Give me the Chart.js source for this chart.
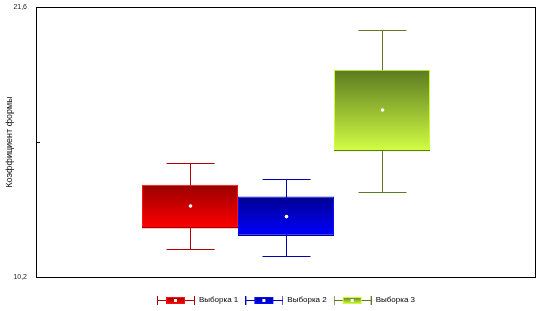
<!DOCTYPE html>
<html>
<head>
<meta charset="utf-8">
<script src="https://cdn.jsdelivr.net/npm/chart.js@4/dist/chart.umd.min.js"></script>
<style>
  body { margin: 0; background: #fff; }
  #wrap { width: 538px; height: 311px; }
</style>
</head>
<body>
<div id="wrap"><canvas id="boxchart" width="538" height="311"></canvas></div>
<script>
"use strict";

/* data */
var samples = ['Выборка 1', 'Выборка 2', 'Выборка 3'];
var whiskerLow = [11.4, 11.1, 13.8];
var q1 = [12.25, 11.95, 15.5];
var means = [13.2, 12.75, 17.25];
var q3 = [14.1, 13.6, 18.95];
var whiskerHigh = [15.0, 14.35, 20.65];
var yTicks = [10.2, 15.9, 21.6];
var yTickLabels = ['10,2', '', '21,6'];

/* colours: top of box, bottom of box, light edge, dark edge, whisker */
var boxTop = ['#990000', '#000090', '#5a7a20'];
var boxBottom = ['#ff0000', '#0000ff', '#d4ff44'];
var edgeLight = ['#ff1010', '#0010ff', '#ccff33'];
var edgeDark = ['#a00000', '#000080', '#5a7a1f'];
var whiskerColor = ['#b00000', '#0000b0', '#5f7a1f'];

var fontFamily = '"Liberation Sans", Arial, sans-serif';

/* legend icons |--[box]--| */
function makeIcon(i) {
    var c = document.createElement('canvas');
    c.width = 38;
    c.height = 10;
    var g = c.getContext('2d');
    g.strokeStyle = whiskerColor[i];
    g.lineWidth = 1;
    g.beginPath();
    g.moveTo(0, 5.5); g.lineTo(38, 5.5);
    g.moveTo(0.5, 1); g.lineTo(0.5, 10);
    g.moveTo(37.5, 1); g.lineTo(37.5, 10);
    g.stroke();
    var grad = g.createLinearGradient(0, 2, 0, 9);
    grad.addColorStop(0, boxTop[i]);
    grad.addColorStop(1, boxBottom[i]);
    g.fillStyle = grad;
    g.fillRect(9, 2, 19, 7);
    g.strokeStyle = edgeLight[i];
    g.strokeRect(9.5, 2.5, 18, 6);
    g.fillStyle = '#fff';
    g.fillRect(17, 4, 3, 3);
    return c;
}
var legendIcons = samples.map(function (s, i) { return makeIcon(i); });

function boxGradient(context) {
    var i = context.datasetIndex;
    var chart = context.chart;
    if (!chart.chartArea) {
        return boxBottom[i];
    }
    var y = chart.scales.y;
    var top = y.getPixelForValue(q3[i]);
    var bottom = y.getPixelForValue(q1[i]);
    var grad = chart.ctx.createLinearGradient(0, top, 0, bottom);
    grad.addColorStop(0, boxTop[i]);
    grad.addColorStop(1, boxBottom[i]);
    return grad;
}

/* whiskers behind, means + frame on top */
var boxplotExtras = {
    id: 'boxplotExtras',
    beforeDatasetsDraw: function (chart) {
        var ctx = chart.ctx;
        var y = chart.scales.y;
        ctx.save();
        ctx.lineWidth = 1;
        samples.forEach(function (s, i) {
            var bar = chart.getDatasetMeta(i).data[0];
            if (!bar) return;
            var x = Math.round(bar.x) + 0.5;
            var half = Math.round(bar.width * 0.245);
            var yHi = Math.round(y.getPixelForValue(whiskerHigh[i])) + 0.5;
            var yLo = Math.round(y.getPixelForValue(whiskerLow[i])) + 0.5;
            ctx.strokeStyle = whiskerColor[i];
            ctx.beginPath();
            ctx.moveTo(x, yHi); ctx.lineTo(x, yLo);
            ctx.moveTo(x - half, yHi); ctx.lineTo(x + half, yHi);
            ctx.moveTo(x - half, yLo); ctx.lineTo(x + half, yLo);
            ctx.stroke();
        });
        ctx.restore();
    },
    afterDatasetsDraw: function (chart) {
        var ctx = chart.ctx;
        var y = chart.scales.y;
        var area = chart.chartArea;
        ctx.save();
        ctx.lineWidth = 1;
        samples.forEach(function (s, i) {
            var bar = chart.getDatasetMeta(i).data[0];
            if (!bar) return;
            var left = Math.round(bar.x - bar.width / 2);
            var right = Math.round(bar.x + bar.width / 2);
            var bottom = Math.round(Math.max(bar.y, bar.base));
            ctx.strokeStyle = edgeDark[i];
            ctx.beginPath();
            ctx.moveTo(left, bottom - 0.5); ctx.lineTo(right, bottom - 0.5);
            ctx.stroke();
            // mean marker
            var my = y.getPixelForValue(means[i]);
            ctx.fillStyle = '#fff';
            ctx.beginPath();
            ctx.arc(Math.round(bar.x) + 0.5, my, 1.8, 0, Math.PI * 2);
            ctx.fill();
        });
        // plot frame
        ctx.strokeStyle = '#000';
        ctx.strokeRect(Math.round(area.left) + 0.5, Math.round(area.top) + 0.5,
            Math.round(area.right - area.left) - 1, Math.round(area.bottom - area.top));
        // inner tick marks
        yTicks.forEach(function (v) {
            var ty = Math.round(y.getPixelForValue(v)) + 0.5;
            ctx.beginPath();
            ctx.moveTo(area.left, ty); ctx.lineTo(area.left + 4, ty);
            ctx.stroke();
        });
        ctx.restore();
    }
};

var datasets = samples.map(function (s, i) {
    return {
        label: s,
        data: [[q1[i], q3[i]]],
        backgroundColor: boxGradient,
        borderColor: edgeLight[i],
        borderWidth: 1,
        borderSkipped: false,
        barPercentage: 1.0,
        categoryPercentage: 0.576
    };
});

var boxchart = new Chart(document.getElementById('boxchart'), {
    type: 'bar',
    data: {
        labels: [''],
        datasets: datasets
    },
    options: {
        responsive: false,
        animation: false,
        layout: {
            padding: { top: 7, right: 2, left: 0, bottom: -3 }
        },
        plugins: {
            tooltip: { enabled: false },
            legend: {
                position: 'bottom',
                fullSize: false,
                labels: {
                    usePointStyle: true,
                    pointStyleWidth: 38,
                    padding: 7,
                    color: '#000',
                    font: { family: fontFamily, size: 8 },
                    generateLabels: function () {
                        return samples.map(function (s, i) {
                            return {
                                text: s,
                                pointStyle: legendIcons[i],
                                fillStyle: boxBottom[i],
                                strokeStyle: whiskerColor[i],
                                lineWidth: 0,
                                hidden: false,
                                datasetIndex: i,
                                fontColor: '#000'
                            };
                        });
                    }
                }
            }
        },
        scales: {
            x: {
                grid: { display: false },
                ticks: { display: false },
                border: { display: false },
                afterFit: function (scale) { scale.height = 12; }
            },
            y: {
                min: 10.2,
                max: 21.6,
                afterBuildTicks: function (scale) {
                    scale.ticks = yTicks.map(function (v) { return { value: v }; });
                },
                afterFit: function (scale) {
                    scale.width = 36;
                    // labels may overhang the plot edges
                    scale.paddingTop = 0;
                    scale.paddingBottom = 0;
                },
                grid: { drawOnChartArea: false, drawTicks: false },
                border: { display: false },
                ticks: {
                    padding: 9,
                    color: '#222',
                    font: { family: fontFamily, size: 7 },
                    callback: function (value, index) {
                        return yTickLabels[index];
                    }
                },
                title: {
                    display: true,
                    text: 'Коэффициент формы',
                    color: '#111',
                    font: { family: fontFamily, size: 9 },
                    padding: { top: 4, bottom: 0 }
                }
            }
        }
    },
    plugins: [boxplotExtras]
});
</script>
</body>
</html>
